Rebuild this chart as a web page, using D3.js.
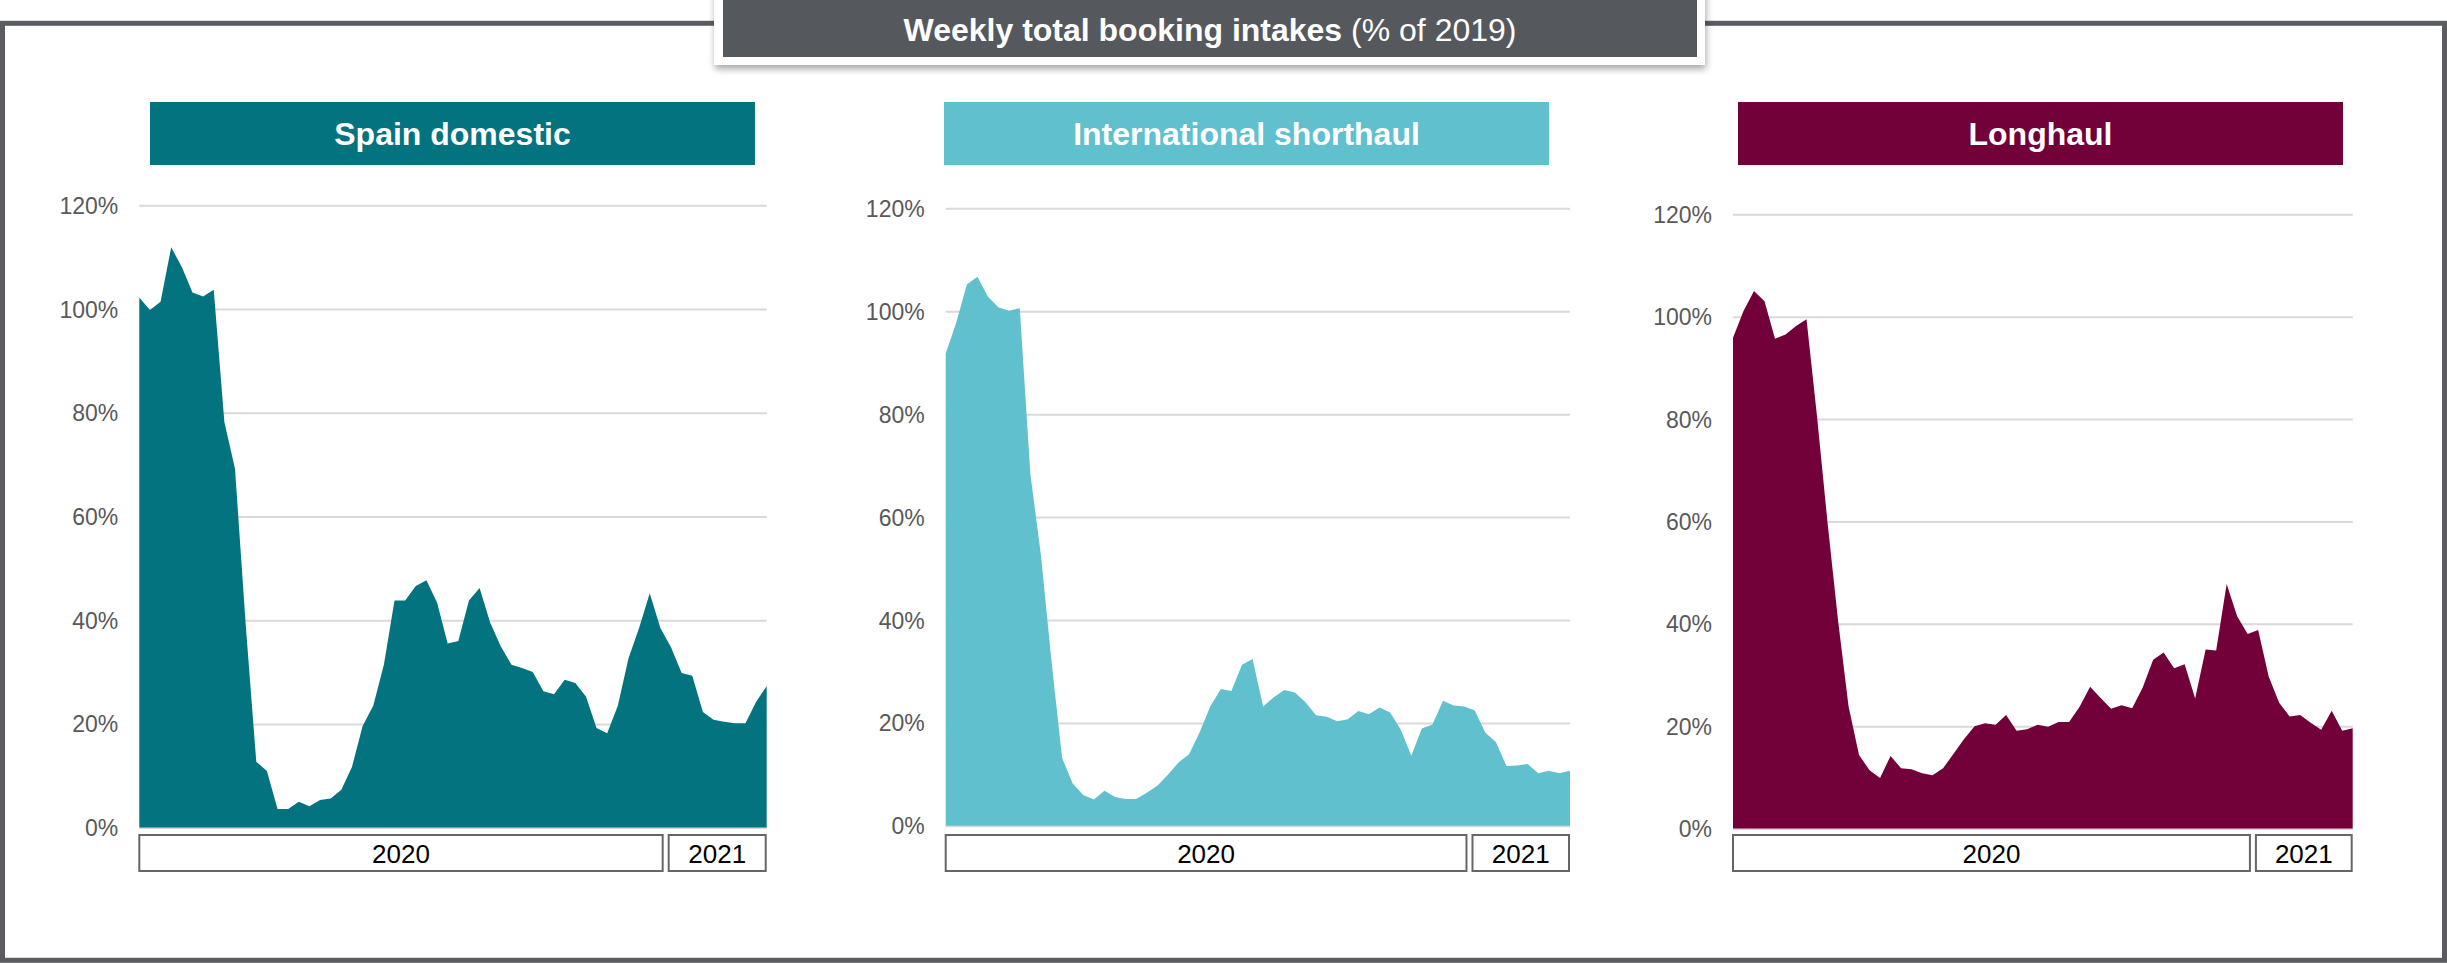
<!DOCTYPE html>
<html>
<head>
<meta charset="utf-8">
<script src="https://cdn.jsdelivr.net/npm/d3@7"></script>
<style>
  html, body { margin: 0; padding: 0; background: #ffffff; }
  svg { display: block; font-family: "Liberation Sans", Arial, sans-serif; }
</style>
</head>
<body>
<svg id="chart" width="2447" height="963"></svg>
<script>
// Weekly total booking intakes, % of the same week in 2019
const yearLabels = ["2020", "2021"];
const yearWeekCounts = [50, 10];
const firstWeekOfYear = [3, 1];

const yTicks = [0, 20, 40, 60, 80, 100, 120];

const spainDomestic = [102.2, 99.8, 101.4, 111.9, 108.1, 103.2, 102.4, 103.7, 78.2, 69.2,
  39.3, 12.7, 10.9, 3.6, 3.6, 5.0, 4.1, 5.3, 5.6, 7.3,
  11.7, 19.6, 23.5, 31.4, 43.8, 43.8, 46.6, 47.7, 43.4, 35.5,
  36.0, 43.8, 46.2, 39.5, 34.9, 31.4, 30.8, 30.0, 26.3, 25.7,
  28.5, 27.9, 25.3, 19.2, 18.2, 23.5, 32.6, 38.5, 45.2, 38.5,
  34.8, 29.8, 29.3, 22.3, 20.8, 20.4, 20.1, 20.1, 24.2, 27.3];

const internationalShorthaul = [91.8, 97.8, 105.2, 106.7, 102.8, 100.7, 100.1, 100.6, 68.4, 52.6,
  32.0, 13.2, 8.2, 6.0, 5.1, 6.8, 5.6, 5.2, 5.2, 6.4,
  7.8, 9.9, 12.3, 13.9, 18.2, 23.2, 26.6, 26.2, 31.3, 32.4,
  23.2, 25.0, 26.4, 25.9, 24.0, 21.5, 21.2, 20.3, 20.7, 22.3,
  21.7, 23.0, 22.0, 18.7, 13.6, 18.9, 19.7, 24.3, 23.4, 23.2,
  22.4, 18.1, 16.3, 11.6, 11.7, 12.0, 10.2, 10.7, 10.2, 10.7];

const longhaul = [95.9, 101.1, 105.0, 103.0, 95.7, 96.5, 98.2, 99.5, 80.5, 59.8,
  40.7, 23.9, 14.4, 11.4, 9.9, 14.2, 11.8, 11.6, 10.8, 10.4,
  11.8, 14.6, 17.5, 20.0, 20.6, 20.3, 22.2, 19.1, 19.4, 20.3,
  19.9, 20.8, 20.8, 23.8, 27.7, 25.5, 23.4, 24.1, 23.5, 27.5,
  33.0, 34.4, 31.3, 32.1, 25.4, 35.0, 34.8, 47.8, 41.5, 38.0,
  38.8, 29.7, 24.6, 21.9, 22.2, 20.7, 19.3, 23.0, 19.1, 19.6];

const panelTitles = ["Spain domestic", "International shorthaul", "Longhaul"];
const panelSeries = [spainDomestic, internationalShorthaul, longhaul];

// week categories: "2020-W03" ... "2021-W10"
const weeks = [];
const weekYear = [];
yearLabels.forEach((yr, i) => {
  for (let k = 0; k < yearWeekCounts[i]; k++) {
    weeks.push(yr + "-W" + String(firstWeekOfYear[i] + k).padStart(2, "0"));
    weekYear.push(yr);
  }
});

// layout of the three panels
const panels = [
  { color: "#03737F", x0: 139.3, x1: 766.7, yTop: 205.3, yBase: 827.6, head: [150, 755] },
  { color: "#61C0CD", x0: 945.7, x1: 1570.0, yTop: 208.3, yBase: 825.8, head: [944, 1549] },
  { color: "#720039", x0: 1733.0, x1: 2352.7, yTop: 214.3, yBase: 828.6, head: [1738, 2343] }
];

const svg = d3.select("#chart");
const defs = svg.append("defs");
const shadow = defs.append("filter").attr("id", "titleShadow")
  .attr("x", "-5%").attr("y", "-50%").attr("width", "110%").attr("height", "200%");
shadow.append("feDropShadow").attr("dx", 1).attr("dy", 4).attr("stdDeviation", 3.5)
  .attr("flood-color", "#000").attr("flood-opacity", 0.35);

// outer frame
svg.append("rect")
  .attr("x", 2.5).attr("y", 23.3).attr("width", 2442).attr("height", 937)
  .attr("fill", "none").attr("stroke", "#5B5C5F").attr("stroke-width", 5);

// main title box
svg.append("rect")
  .attr("x", 714).attr("y", -10).attr("width", 991).attr("height", 75)
  .attr("fill", "#ffffff").attr("filter", "url(#titleShadow)");
svg.append("rect")
  .attr("x", 723).attr("y", -10).attr("width", 974).attr("height", 67)
  .attr("fill", "#55585C");
const title = svg.append("text")
  .attr("x", 1210).attr("y", 41).attr("text-anchor", "middle")
  .attr("fill", "#ffffff").style("font-size", "32px");
title.append("tspan").attr("font-weight", "bold").text("Weekly total booking intakes ");
title.append("tspan").attr("font-weight", "normal").text("(% of 2019)");

panels.forEach((p, pi) => {
  const values = panelSeries[pi];
  const data = weeks.map((w, i) => ({ week: w, year: weekYear[i], value: values[i] }));

  const x = d3.scalePoint().domain(weeks).range([p.x0, p.x1]).padding(0);
  const y = d3.scaleLinear().domain([0, 120]).range([p.yBase, p.yTop]);

  const g = svg.append("g");

  // header band
  g.append("rect")
    .attr("x", p.head[0]).attr("y", 102).attr("width", p.head[1] - p.head[0]).attr("height", 63)
    .attr("fill", p.color);
  g.append("text")
    .attr("x", (p.head[0] + p.head[1]) / 2).attr("y", 145)
    .attr("text-anchor", "middle").attr("fill", "#ffffff")
    .attr("font-weight", "bold").style("font-size", "32px")
    .text(panelTitles[pi]);

  // y axis: gridlines + percentage labels
  const yAxis = d3.axisLeft(y).tickValues(yTicks)
    .tickSize(-(p.x1 - p.x0)).tickPadding(21)
    .tickFormat(d => d + "%");
  const ga = g.append("g").attr("transform", `translate(${p.x0},0)`).call(yAxis);
  ga.select(".domain").remove();
  ga.selectAll(".tick line").attr("stroke", "#D9D9D9").attr("stroke-width", 2);
  ga.selectAll(".tick text")
    .attr("fill", "#595959").attr("dy", "0.35em")
    .style("font-size", "23px").style("font-family", "'Liberation Sans', Arial, sans-serif");

  // filled area
  const area = d3.area()
    .x(d => x(d.week))
    .y0(y(0))
    .y1(d => y(d.value))
    .curve(d3.curveLinear);
  g.append("path").datum(data).attr("d", area).attr("fill", p.color);

  // year category boxes
  const step = x.step();
  yearLabels.forEach(yr => {
    const idx = data.map((d, i) => d.year === yr ? i : -1).filter(i => i >= 0);
    const first = idx[0], last = idx[idx.length - 1];
    const left = first === 0 ? x(weeks[first]) : x(weeks[first]) - step / 2 + 3;
    const right = last === weeks.length - 1 ? x(weeks[last]) - 1 : x(weeks[last]) + step / 2 - 3;
    g.append("rect")
      .attr("x", left).attr("y", 835).attr("width", right - left).attr("height", 36)
      .attr("fill", "#ffffff").attr("stroke", "#666666").attr("stroke-width", 2);
    g.append("text")
      .attr("x", (left + right) / 2).attr("y", 862.5)
      .attr("text-anchor", "middle").attr("fill", "#000000")
      .style("font-size", "26px")
      .text(yr);
  });
});
</script>
</body>
</html>
